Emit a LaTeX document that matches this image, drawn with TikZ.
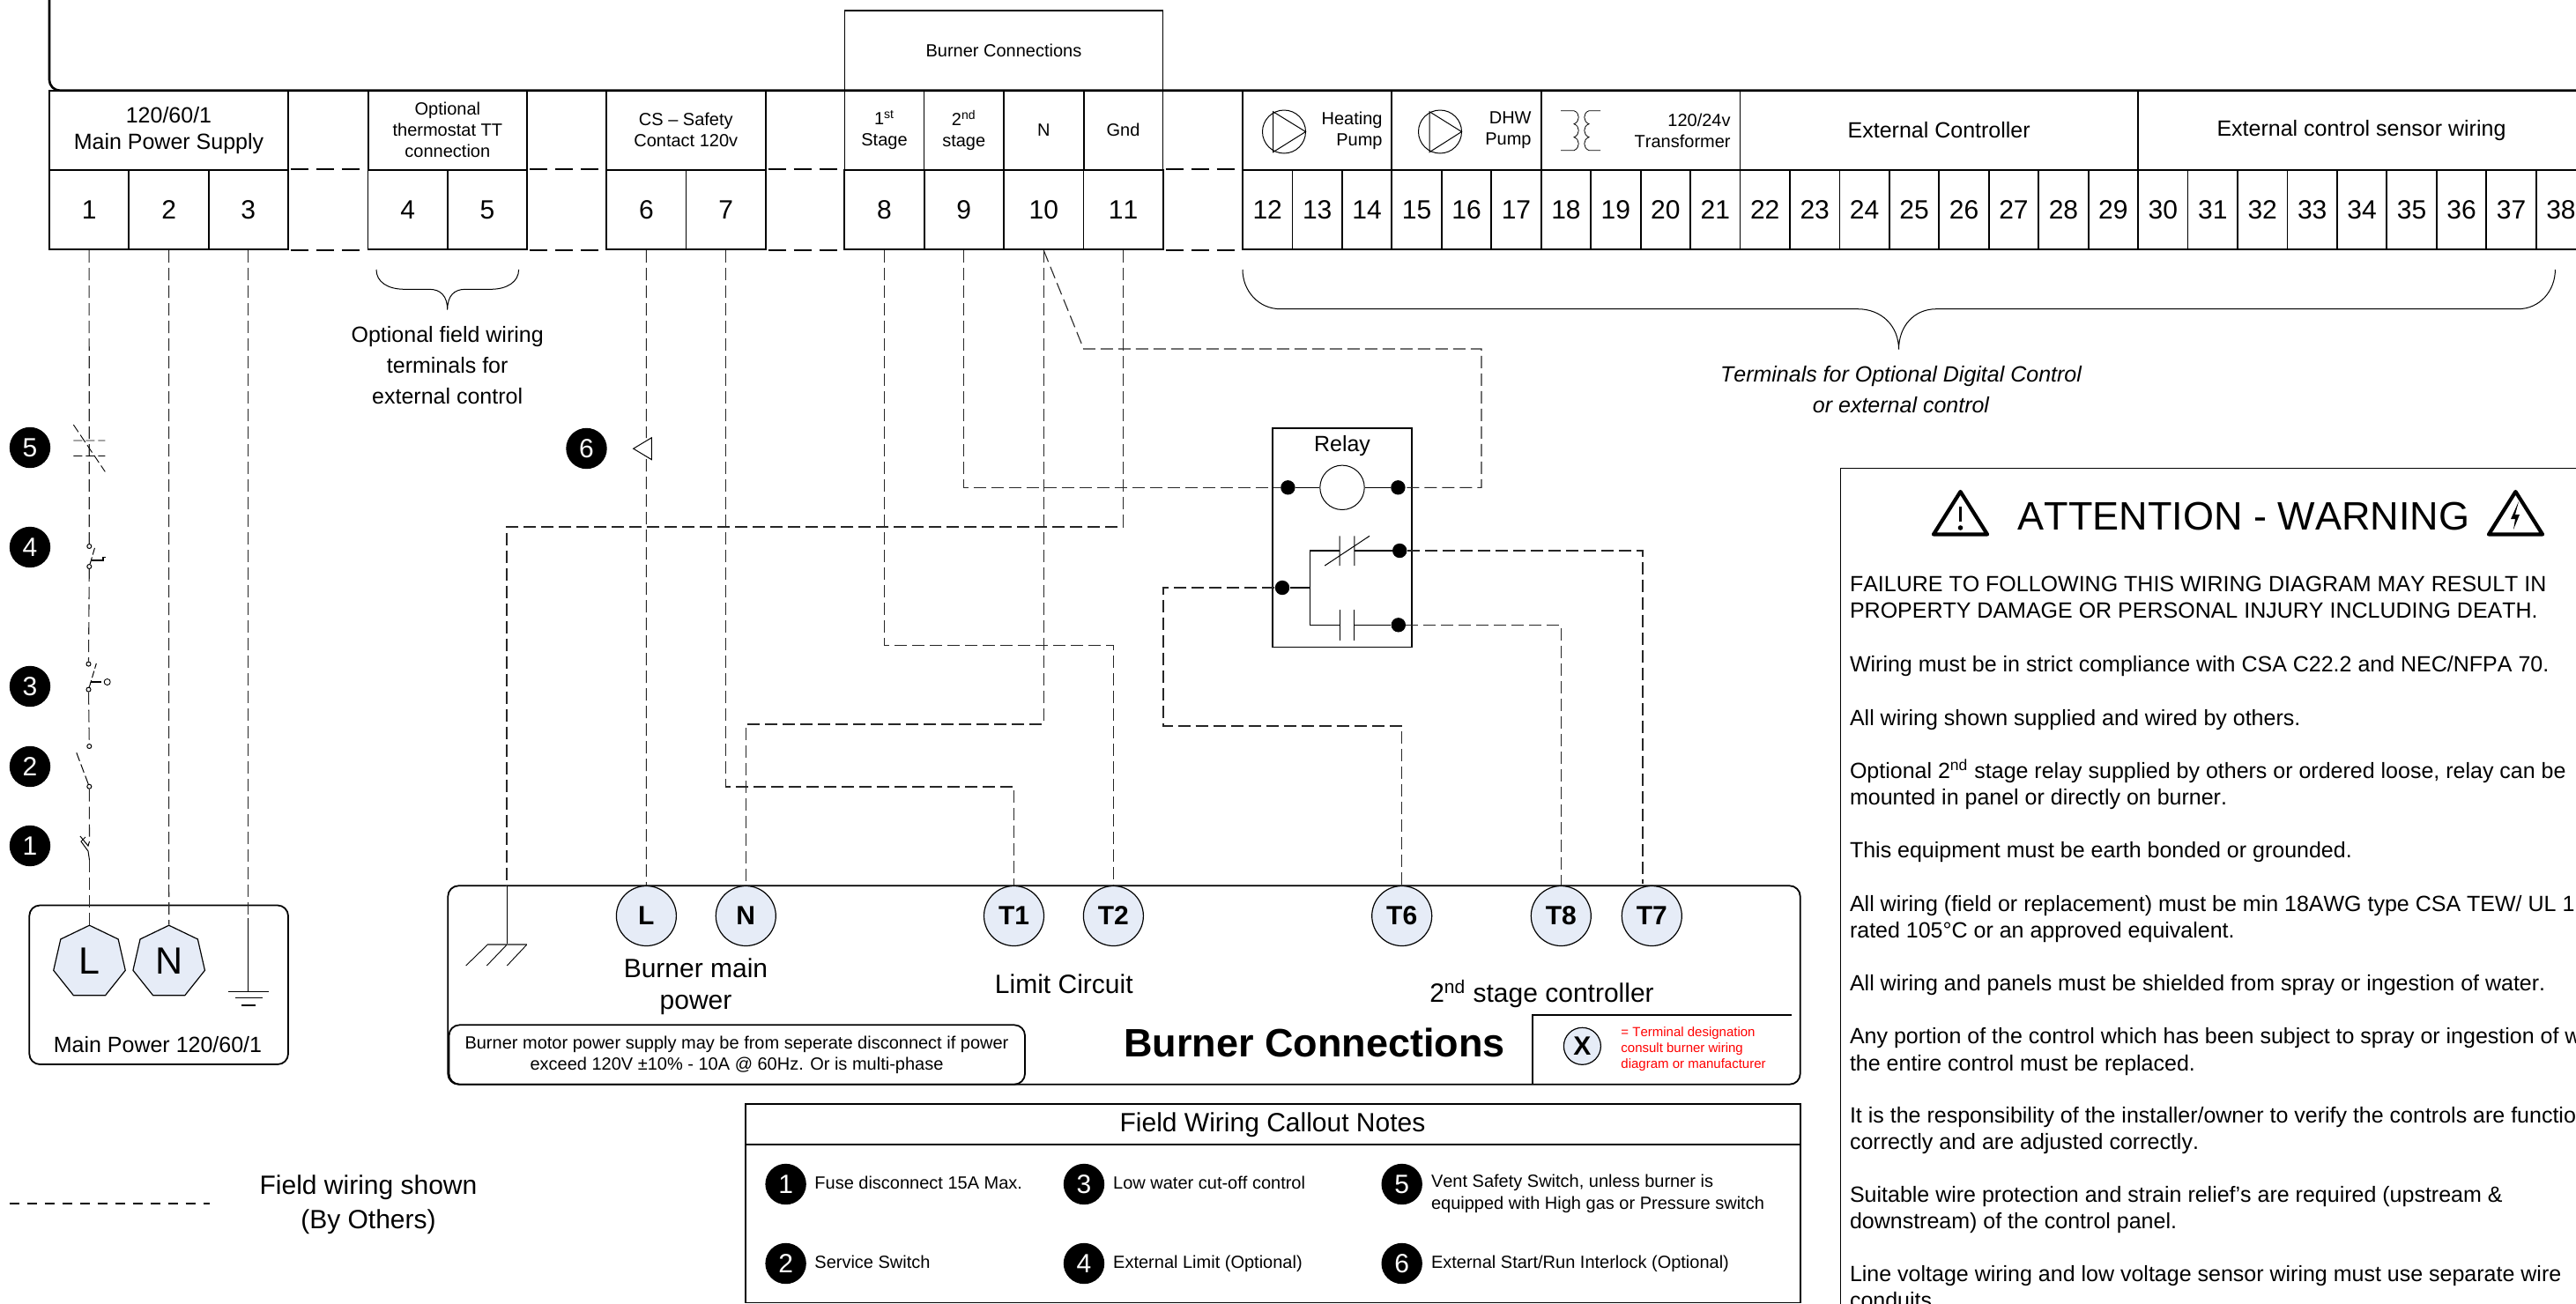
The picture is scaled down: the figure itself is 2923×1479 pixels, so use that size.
\documentclass[tikz,border=0pt]{standalone}
\usepackage{fontspec}
\setmainfont[Kerning=Off]{Liberation Sans}
\usetikzlibrary{shapes.geometric,calc}
\definecolor{lb}{HTML}{E6ECF7}
\tikzset{
 f15/.style={font=\fontsize{7.5}{9}\selectfont},
 f20/.style={font=\fontsize{10}{12}\selectfont},
 f25/.style={font=\fontsize{12.5}{15}\selectfont},
 f25w/.style={font=\fontsize{12.5}{17.5}\selectfont},
 f30/.style={font=\fontsize{15}{18}\selectfont},
 txt/.style={inner sep=0pt,align=center},
 cellbox/.style={draw,line width=.9pt,inner sep=0pt,minimum height=45.3pt,f30},
 bigcell/.style={cellbox,minimum width=45.15pt},
 smallcell/.style={cellbox,minimum width=28.225pt},
 headbox/.style={draw,line width=.9pt,inner sep=0pt,minimum height=45pt,align=center},
 wire/.style={line width=.55pt,draw=black!85,dash pattern=on 7pt off 3pt},
 gapdash/.style={line width=1.1pt,dash pattern=on 10pt off 4.5pt},
 thinline/.style={line width=.5pt},
 termdot/.style={circle,fill=black,minimum size=8.2pt,inner sep=0pt},
 swterm/.style={circle,draw,fill=white,line width=.5pt,minimum size=2.5pt,inner sep=0pt},
 callout/.style={circle,fill=black,text=white,minimum size=23.2pt,inner sep=0pt,f30},
 hept/.style={regular polygon,regular polygon sides=7,minimum size=41.8pt,inner sep=0pt,draw,fill=lb,line width=.6pt,font=\fontsize{21.5}{25}\selectfont},
 port/.style={circle,draw,fill=lb,line width=.6pt,minimum size=34pt,inner sep=0pt,font=\fontsize{15}{18}\selectfont\bfseries},
 note/.style={anchor=base west,inner sep=0pt,f20},
 warn/.style={anchor=base west,inner sep=0pt,f25},
}
\newcommand\wl[3]{\node[warn] (#1) at (2098.6,#2) {#3};}
\begin{document}
\begin{tikzpicture}[x=.5pt,y=-.5pt]
\useasboundingbox (0,0) rectangle (2923,1479);
\clip (0,0) rectangle (2923,1479);
\fill[white] (0,0) rectangle (2923,1479);

% terminal strip
\foreach \n/\x in {1/101.15,2/191.65,3/281.8,4/462.7,5/552.85,6/733.35,7/823.65,8/1003.5,9/1093.75,10/1184.3,11/1274.55}
  \node[bigcell] (c\n) at (\x,238) {\n};
\foreach \n in {12,...,38}
  \node[smallcell] (c\n) at ({1410+56.45*(\n-12)+28.22},238) {\n};

% header cells
\node[headbox,minimum width=135.5pt,f25] (h1) at (191.5,147.7) {\raisebox{-.5pt}{120/60/1}\\\raisebox{-.5pt}{Main Power Supply}};
\node[headbox,minimum width=90.15pt,f20] (h4) at (507.85,147.7) {Optional\\thermostat TT\\connection};
\node[headbox,minimum width=90.3pt,f20] (h6) at (778.3,147.7) {CS -- Safety\\Contact 120v};
\node[headbox,minimum width=45pt,f20] (h8) at (1003.5,147.7) {1\textsuperscript{st}\\Stage};
\node[headbox,minimum width=45.25pt,f20] (h9) at (1093.75,147.7) {2\textsuperscript{nd}\\stage};
\node[headbox,minimum width=45.3pt,f20] (h10) at (1184.3,147.7) {N};
\node[headbox,minimum width=44.95pt,f20] (h11) at (1274.55,147.7) {Gnd};
\node[headbox,minimum width=84.5pt] (h12) at (1494.5,147.7) {};
\node[headbox,minimum width=84.85pt] (h15) at (1663.85,147.7) {};
\node[headbox,minimum width=112.9pt] (h18) at (1861.6,147.7) {};
\node[headbox,minimum width=225.75pt,f25] (h22) at (2200.2,147.7) {External Controller};
\node[headbox,minimum width=253.5pt,f25,anchor=center] (h30) at (2679.5,147.7) {External control sensor wiring};
\node[txt,f20,anchor=east,align=right] (t12) at (1569,148) {Heating\\Pump};
\node[txt,f20,anchor=east,align=right] (t15) at (1738,148) {DHW\\Pump};
\node[txt,f20,anchor=east,align=right] (t18) at (1964,148) {120/24v\\Transformer};

% burner connections box and top line
\node[draw,line width=.9pt,inner sep=0pt,minimum width=180.5pt,minimum height=45.35pt,f20] (hb) at (1139,57.35) {Burner Connections};
\draw[line width=1.3pt,rounded corners=6pt] (56,-6) |- (2960,102.7);

% gap dashes
\foreach \a/\b in {3/4,5/6,7/8} {
  \draw[gapdash] ($(c\a.north east)+(2,0)$) -- ($(c\b.north west)+(-2,0)$);
  \draw[gapdash] ($(c\a.south east)+(2,0)$) -- ($(c\b.south west)+(-2,0)$);
}
\draw[gapdash] ($(c11.north east)+(2,0)$) -- ($(c12.north west)+(-2,0)$);
\draw[gapdash] ($(c11.south east)+(2,0)$) -- ($(c12.south west)+(-2,0)$);

% pump and transformer icons
\foreach \c/\l in {1457/1444.5,1634/1622} {
  \draw[thinline] (\c,149.5) circle[radius=24.5];
  \draw[thinline] (\l,126.7) -- ({\c+24.5},149.5) -- (\l,172.7) -- cycle;
}
\draw[line width=.4pt] (1771,125.7) -- (1786,125.7)
  .. controls (1793,128) and (1793,138) .. (1786,140.7)
  .. controls (1793,143) and (1793,153) .. (1786,155.7)
  .. controls (1793,158) and (1793,168) .. (1786,170.7) -- (1771,170.7);
\draw[line width=.4pt] (1816,125.7) -- (1803,125.7)
  .. controls (1796,128) and (1796,138) .. (1803,140.7)
  .. controls (1796,143) and (1796,153) .. (1803,155.7)
  .. controls (1796,158) and (1796,168) .. (1803,170.7) -- (1816,170.7);

% braces
\draw[thinline] (427,306) .. controls (427,320) and (440,328.3) .. (459,328.3) -- (487,328.3)
  .. controls (500,328.3) and (507.7,336) .. (507.7,351.7)
  .. controls (507.7,336) and (515,328.3) .. (528,328.3) -- (557,328.3)
  .. controls (575,328.3) and (588.6,320) .. (588.6,306);
\draw[thinline] (1410,306) .. controls (1410,330) and (1428,350.7) .. (1453,350.7) -- (2108,350.7)
  .. controls (2135,350.7) and (2154.5,370) .. (2154.5,396.7)
  .. controls (2154.5,370) and (2172,350.7) .. (2197,350.7) -- (2857,350.7)
  .. controls (2882,350.7) and (2899.4,330) .. (2899.4,306);
\node[txt,f25w] (bracea) at (507.7,415) {Optional field wiring\\terminals for\\external control};
\node[txt,font=\fontsize{12.5}{17.8}\selectfont\itshape] (braceb) at (2157,442) {Terminals for Optional Digital Control\\or external control};

% main power box
\draw[line width=.9pt,rounded corners=6pt,fill=white] (33.3,1027.5) rectangle (327,1208);
\node[txt,f25] (mainlab) at (179,1186) {Main Power 120/60/1};
\node[hept] (LP) at (101.5,1092) {\raisebox{1.5pt}{L}};
\node[hept] (NP) at (191.7,1092) {\raisebox{1.5pt}{N}};
\coordinate (gt) at (281.8,1042);
\coordinate (gb) at (281.8,1125.4);
\draw[wire] (c2.south) -- (NP.corner 1);
\draw[wire] (c3.south) -- (gt);
\draw[line width=.6pt] (gt) -- (gb);
\draw[line width=.6pt] (259,1125.4) -- (305,1125.4) (267,1132.6) -- (297.7,1132.6) (274,1141) -- (290,1141);

% callouts on the left
\node[callout] (k5) at (34,508) {5};
\node[callout] (k4) at (34,621) {4};
\node[callout] (k3) at (34,779) {3};
\node[callout] (k2) at (34,870) {2};
\node[callout] (k1) at (34,960) {1};

% switches on wire 1
\node[swterm] (s4a) at (101.3,620) {};
\node[swterm] (s4b) at (101.3,643) {};
\node[swterm] (s3a) at (100.5,753.6) {};
\node[swterm] (s3b) at (100.5,782.6) {};
\node[swterm] (s2a) at (101.3,847) {};
\node[swterm] (s2b) at (101.3,892.7) {};
\coordinate (f1a) at (101.5,955);
\coordinate (f1b) at (101.5,976);
\draw[wire] (c1.south) -- (s4a);
\draw[wire] (s4b) -- (s3a);
\draw[wire] (s3b) -- (s2a);
\draw[wire] (s2b) -- (f1a);
\draw[wire] (f1b) -- (LP.corner 1);
\draw[line width=.45pt,dash pattern=on 5pt off 2pt] (83.3,500) -- (119.3,500) (83.3,517.5) -- (119.3,517.5) (83.3,482) -- (119.3,535.4);
\draw[line width=.5pt,dash pattern=on 4pt off 1.5pt] (s4b) -- (108,620);
\draw[line width=.9pt] (104,636) -- (116.7,636) -- (116.7,632.5) -- (120,632.5);
\draw[line width=.5pt,dash pattern=on 4pt off 1.5pt] (s3b) -- (109.3,753);
\draw[line width=.6pt] (103,774) -- (115,774);
\draw[line width=.45pt] (121.7,774) circle[radius=3.5];
\draw[line width=.5pt,dash pattern=on 5pt off 2pt] (s2b) -- (86.7,854);
\draw[line width=.5pt] (f1b) -- (100,966) -- (92,955) -- (97,950) (f1a) -- (100,960) -- (91,949);

% wire 6 with interlock
\node[callout] (k6) at (665.5,509) {6};
\node[isosceles triangle,draw,fill=white,line width=.5pt,minimum width=12.5pt,minimum height=10.4pt,inner sep=0pt,isosceles triangle apex angle=62,shape border rotate=180] (tri6) at (732.4,509.2) {};
\coordinate (w6a) at (733.3,497);
\coordinate (w6b) at (733.3,521);

% burner panel
\draw[line width=.9pt,rounded corners=6pt] (508.3,1005.3) rectangle (2042.7,1230.7);
\draw[line width=.9pt,rounded corners=6pt] (509.5,1230.7) -- (509.5,1163.3) -- (1163,1163.3) -- (1163,1230.7) -- cycle;
\node[txt,f20] (motor) at (836,1197) {Burner motor power supply may be from seperate disconnect if power\\exceed 120V ±10\% - 10A @ 60Hz. Or is multi-phase};
\node[port] (BL) at (733.4,1039.5) {L};
\node[port] (BN) at (846.3,1039.5) {N};
\node[port] (T1) at (1150.5,1039.5) {T1};
\node[port] (T2) at (1263.4,1039.5) {T2};
\node[port] (T6) at (1590.7,1039.5) {T6};
\node[port] (T8) at (1771.3,1039.5) {T8};
\node[port] (T7) at (1874.3,1039.5) {T7};
\node[txt,font=\fontsize{15}{18}\selectfont] (bmp) at (789.5,1120) {Burner main\\power};
\node[txt,f30] (limit) at (1207.3,1117) {Limit Circuit};
\node[txt,f30] (second) at (1749.5,1128) {2\textsuperscript{nd} stage controller};
\node[txt,font=\fontsize{22.5}{27}\selectfont\bfseries] (bctitle) at (1491.7,1183.5) {Burner Connections};
\draw[line width=.9pt] (2033,1152) -- (1739,1152) -- (1739,1230.7);
\node[circle,draw,fill=lb,line width=.6pt,minimum size=21pt,inner sep=0pt,font=\fontsize{15}{18}\selectfont\bfseries] (xk) at (1795.4,1187.3) {X};
\node[txt,f15,text=red,align=left,anchor=west] (xt) at (1839,1191) {= Terminal designation\\consult burner wiring\\diagram or manufacturer};

% field wiring
\coordinate (m7) at (1000,893);
\coordinate (m8) at (1100,732.6);
\coordinate (m10) at (1000,822);
\coordinate (d10) at (1229.6,396);
\coordinate (d10b) at (1681,396);
\coordinate (m11) at (900,598);
\coordinate (g2) at (575,1072.3);
\coordinate (g2a) at (575,1005.3);
\coordinate (m6) at (1320,824);
\coordinate (T7in) at (1864,1003);
\draw[wire] (c6.south) -- (w6a);
\draw[wire] (w6b) -- (BL.north);
\draw[wire] (c7.south) |- (m7) -| (T1.north);
\draw[wire] (c8.south) |- (m8) -| (T2.north);
\draw[wire] (c10.south) |- (m10) -| (BN.north);
\draw[wire] (c11.south) |- (m11) -| (g2a);
\draw[line width=.45pt] (g2a) -- (g2);
\draw[line width=.9pt,draw=black!60] (553,1072.3) -- (597.6,1072.3);
\draw[line width=.45pt] (553,1072.3) -- (528.7,1096) (575,1072.3) -- (552.3,1096) (597.6,1072.3) -- (575.3,1096);

% relay
\node[draw,line width=.6pt,inner sep=0pt,minimum width=79pt,minimum height=124.15pt] (relay) at (1523,610.15) {};
\node[txt,f25] (rl) at (1523,506.5) {Relay};
\node[circle,draw,line width=.5pt,minimum size=25.2pt,inner sep=0pt] (coil) at (1523,553.3) {};
\node[termdot] (ra) at (1461.4,553.3) {};
\node[termdot] (rb) at (1586.4,553.3) {};
\node[termdot] (rc) at (1455,667) {};
\node[termdot] (rnc) at (1588.2,625) {};
\node[termdot] (rno) at (1586.8,709.3) {};
\draw[line width=.6pt] (ra) -- (coil) (coil) -- (rb);
\coordinate (cj) at (1486.4,667);
\draw[line width=.6pt] (rc) -- (cj) (1486.4,625) -- (1486.4,709.3);
\draw[line width=.6pt] (1486.4,625) -- (1520,625) (1536.8,625) -- (rnc);
\draw[line width=.6pt] (1486.4,709.3) -- (1520,709.3) (1536.8,709.3) -- (rno);
\draw[line width=.5pt] (1520,608.3) -- (1520,642) (1536.8,608.3) -- (1536.8,642) (1503.2,642) -- (1554,608.3);
\draw[line width=.5pt] (1520,692.3) -- (1520,726.7) (1536.8,692.3) -- (1536.8,726.7);
\draw[wire] (c9.south) |- (ra);
\draw[wire] (c10.south) -- (d10) -- (d10b) |- (rb);
\draw[wire] (rc) -| (m6) -| (T6.north);
\draw[wire] (rnc) -| (T7in);
\draw[wire] (rno) -| (T8.north);

% legend
\coordinate (la) at (10.7,1366);
\coordinate (lb1) at (237.5,1366);
\draw[line width=.7pt,dash pattern=on 5.5pt off 4.5pt] (la) -- (lb1);
\node[txt,font=\fontsize{15}{19.5}\selectfont] (lg) at (418,1367.5) {Field wiring shown\\(By Others)};

% callout notes table
\draw[line width=.9pt] (846.3,1253.3) rectangle (2042.7,1478.5);
\draw[line width=1.1pt] (846.3,1299) -- (2042.7,1299);
\node[txt,f30] (fwt) at (1444,1276.5) {Field Wiring Callout Notes};
\node[callout] (n1) at (891.6,1344) {1};
\node[callout] (n2) at (891.6,1434) {2};
\node[callout] (n3) at (1230,1344) {3};
\node[callout] (n4) at (1230,1434) {4};
\node[callout] (n5) at (1590.7,1344) {5};
\node[callout] (n6) at (1590.7,1434) {6};
\node[note] (n1t) at (924,1349.5) {Fuse disconnect 15A Max.};
\node[note] (n2t) at (924,1439.5) {Service Switch};
\node[note] (n3t) at (1262.8,1349.5) {Low water cut-off control};
\node[note] (n4t) at (1262.8,1439.5) {External Limit (Optional)};
\node[note] (n5t) at (1623.6,1347.5) {Vent Safety Switch, unless burner is};
\node[note] (n5u) at (1623.6,1372) {equipped with High gas or Pressure switch};
\node[note] (n6t) at (1623.6,1439.5) {External Start/Run Interlock (Optional)};

% warning box
\draw[line width=.8pt] (2088.6,1490) -- (2088.6,531.3) -- (2950,531.3);
\node[inner sep=0pt,font=\fontsize{22.5}{27}\selectfont] (wt) at (2546,586) {ATTENTION - WARNING};
\draw[line width=2.1pt,line join=round] (2224.5,558) -- (2255,606.5) -- (2194,606.5) -- cycle;
\draw[line width=1.8pt] (2224.5,575) -- (2224.5,592);
\fill (2224.5,599) circle[radius=2.8];
\draw[line width=2.1pt,line join=round] (2854.4,558) -- (2885,606.5) -- (2824,606.5) -- cycle;
\fill (2858,569) -- (2849,589) -- (2854,589) -- (2852,601) -- (2859,584) -- (2854,584) -- cycle;
\wl{w1}{671.7}{FAILURE TO FOLLOWING THIS WIRING DIAGRAM MAY RESULT IN}
\wl{w2}{701.7}{PROPERTY DAMAGE OR PERSONAL INJURY INCLUDING DEATH.}
\wl{w3}{762.5}{Wiring must be in strict compliance with CSA C22.2 and NEC/NFPA 70.}
\wl{w4}{823.5}{All wiring shown supplied and wired by others.}
\wl{w5}{883.5}{Optional 2\textsuperscript{nd} stage relay supplied by others or ordered loose, relay can be}
\wl{w6}{913.5}{mounted in panel or directly on burner.}
\wl{w7}{973.5}{This equipment must be earth bonded or grounded.}
\wl{w8}{1034.5}{All wiring (field or replacement) must be min 18AWG type CSA TEW/ UL 1}
\wl{w9}{1064}{rated 105°C or an approved equivalent.}
\wl{w10}{1124.5}{All wiring and panels must be shielded from spray or ingestion of water.}
\wl{w11}{1184.5}{Any portion of the control which has been subject to spray or ingestion of w}
\wl{w12}{1215}{the entire control must be replaced.}
\wl{w13}{1274.5}{It is the responsibility of the installer/owner to verify the controls are functio}
\wl{w14}{1304.5}{correctly and are adjusted correctly.}
\wl{w15}{1364.5}{Suitable wire protection and strain relief's are required (upstream \&}
\wl{w16}{1394.5}{downstream) of the control panel.}
\wl{w17}{1454.5}{Line voltage wiring and low voltage sensor wiring must use separate wire}
\wl{w18}{1484.5}{conduits.}
\end{tikzpicture}
\end{document}
